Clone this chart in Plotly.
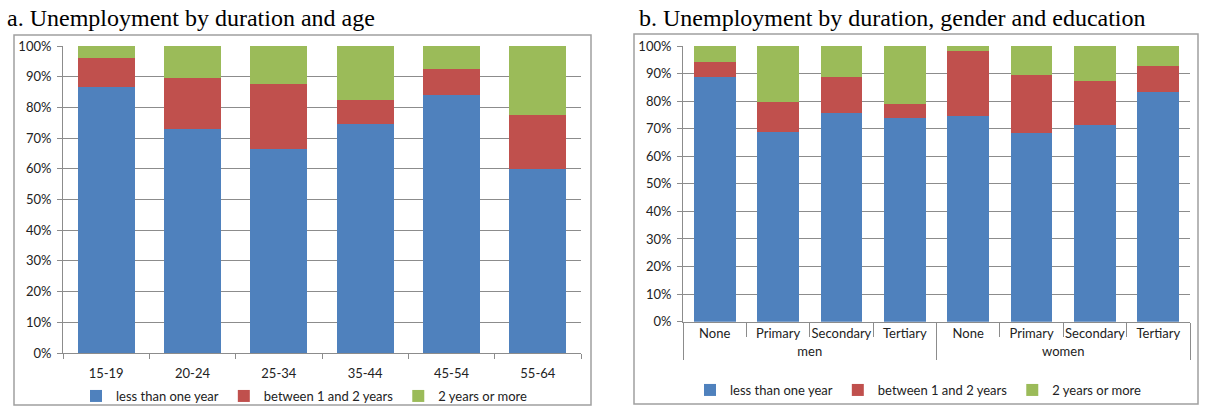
import plotly.graph_objects as go

# ---- data ----
ages = ["15-19", "20-24", "25-34", "35-44", "45-54", "55-64"]
age_less1 = [86.5, 73.0, 66.4, 74.6, 84.0, 59.9]
age_1to2 = [9.6, 16.7, 21.2, 7.8, 8.5, 17.6]
age_2plus = [3.9, 10.3, 12.4, 17.6, 7.5, 22.5]

genders = ["men", "men", "men", "men", "women", "women", "women", "women"]
education = ["None", "Primary", "Secondary", "Tertiary", "None", "Primary", "Secondary", "Tertiary"]
ge_less1 = [88.9, 68.7, 75.8, 73.8, 74.6, 68.3, 71.2, 83.2]
ge_1to2 = [5.4, 11.0, 13.1, 5.3, 23.7, 21.2, 16.2, 9.4]
ge_2plus = [5.7, 20.3, 11.1, 20.9, 1.7, 10.5, 12.6, 7.4]

series_names = ["less than one year", "between 1 and 2 years", "2 years or more"]
colors = ["#4F81BD", "#C0504D", "#9BBB59"]

FONT = "Lato"
GRID = "#8C8C8C"
TXT = "#222222"

fig = go.Figure()

for name, vals, col in zip(series_names, [age_less1, age_1to2, age_2plus], colors):
    fig.add_trace(go.Bar(x=ages, y=vals, name=name, marker=dict(color=col, line=dict(width=0)),
                         xaxis="x", yaxis="y", legend="legend"))

for name, vals, col in zip(series_names, [ge_less1, ge_1to2, ge_2plus], colors):
    fig.add_trace(go.Bar(x=[genders, education], y=vals, name=name,
                         marker=dict(color=col, line=dict(width=0)),
                         xaxis="x2", yaxis="y2", legend="legend2"))

W, H = 1205, 406
def px(x):
    return x / W
def py(y):
    return 1 - y / H

yax = dict(range=[0, 100], tickvals=list(range(0, 101, 10)),
           ticktext=[f"{v}%" for v in range(0, 101, 10)],
           showgrid=True, gridcolor=GRID, gridwidth=1,
           showline=True, linecolor=GRID, linewidth=1,
           ticks="outside", ticklen=5, tickcolor=GRID, ticklabelstandoff=3,
           tickfont=dict(family=FONT, size=13, color=TXT), zeroline=False,
           fixedrange=True, automargin=False)

fig.update_layout(
    width=W, height=H,
    margin=dict(l=0, r=0, t=0, b=0, autoexpand=False),
    paper_bgcolor="white", plot_bgcolor="white",
    barmode="stack", bargap=0.34,
    showlegend=True,
    xaxis=dict(domain=[px(63), px(581)], anchor="y", showline=True, linecolor=GRID,
               ticks="outside", ticklen=5, tickcolor=GRID, tickson="boundaries",
               tickfont=dict(family=FONT, size=13, color=TXT), showgrid=False,
               automargin=False, tickangle=0, ticklabelstandoff=8),
    yaxis=dict(domain=[py(353), py(46)], anchor="x", **yax),
    xaxis2=dict(domain=[px(683), px(1190)], anchor="y2", type="multicategory",
                showline=True, linecolor=GRID, showdividers=True, dividercolor=GRID,
                dividerwidth=1, ticks="outside", ticklen=14, tickcolor=GRID,
                tickson="boundaries", automargin=False, tickangle=0,
                tickfont=dict(family=FONT, size=13, color=TXT), showgrid=False),
    yaxis2=dict(domain=[py(321.7), py(46)], anchor="x2", **yax),
    legend=dict(orientation="h", x=px(304), xanchor="center", y=py(396), yanchor="middle",
                font=dict(family=FONT, size=13, color=TXT), bgcolor="rgba(0,0,0,0)",
                traceorder="normal", itemwidth=30),
    legend2=dict(orientation="h", x=px(918), xanchor="center", y=py(390), yanchor="middle",
                 font=dict(family=FONT, size=13, color=TXT), bgcolor="rgba(0,0,0,0)",
                 traceorder="normal", itemwidth=30),
    shapes=[
        dict(type="rect", xref="paper", yref="paper", x0=px(14), x1=px(591), y0=py(405), y1=py(35),
             line=dict(color="#A0A0A0", width=1.5), fillcolor="rgba(0,0,0,0)", layer="below"),
        dict(type="rect", xref="paper", yref="paper", x0=px(634), x1=px(1198), y0=py(404), y1=py(34),
             line=dict(color="#A0A0A0", width=1.5), fillcolor="rgba(0,0,0,0)", layer="below"),
    ],
    annotations=[
        dict(text="a. Unemployment by duration and age", xref="paper", yref="paper",
             x=px(5), y=py(18), xanchor="left", yanchor="middle", showarrow=False,
             font=dict(family="Liberation Serif", size=24, color="black")),
        dict(text="b. Unemployment by duration, gender and education", xref="paper", yref="paper",
             x=px(637), y=py(18), xanchor="left", yanchor="middle", showarrow=False,
             font=dict(family="Liberation Serif", size=24, color="black")),
    ],
)

fig.write_html("out.html")
